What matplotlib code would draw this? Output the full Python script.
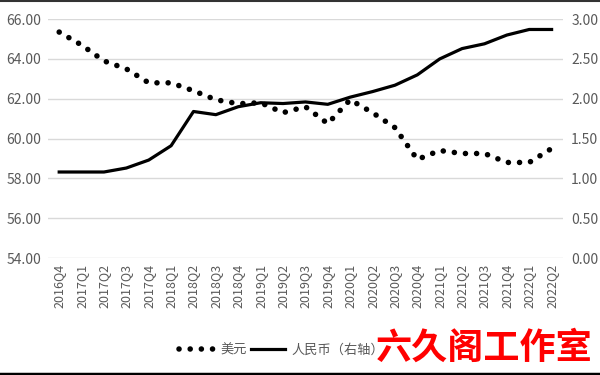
import matplotlib
matplotlib.use("Agg")
import matplotlib.pyplot as plt
from matplotlib.lines import Line2D

plt.rcParams['font.family'] = ['Noto Sans CJK SC', 'DejaVu Sans']

quarters = ["2016Q4", "2017Q1", "2017Q2", "2017Q3", "2017Q4", "2018Q1", "2018Q2",
            "2018Q3", "2018Q4", "2019Q1", "2019Q2", "2019Q3", "2019Q4", "2020Q1",
            "2020Q2", "2020Q3", "2020Q4", "2021Q1", "2021Q2", "2021Q3", "2021Q4",
            "2022Q1", "2022Q2"]
usd = [65.35, 64.7, 63.9, 63.5, 62.8, 62.8, 62.4, 61.95, 61.75, 61.8, 61.3,
       61.6, 60.75, 61.95, 61.3, 60.55, 58.95, 59.4, 59.25, 59.25, 58.8,
       58.8, 59.5]
cny = [1.08, 1.08, 1.08, 1.13, 1.23, 1.41, 1.84, 1.80, 1.90, 1.95, 1.94,
       1.96, 1.93, 2.02, 2.09, 2.17, 2.30, 2.50, 2.63, 2.69, 2.80, 2.87, 2.87]
left_ticks = [54, 56, 58, 60, 62, 64, 66]
right_ticks = [0, 0.5, 1.0, 1.5, 2.0, 2.5, 3.0]

tick_color = "#595959"
grid_color = "#d9d9d9"

fig = plt.figure(figsize=(6, 3.75), dpi=100)
ax = fig.add_axes([0.08, 0.312, 0.858, 0.637])
ax2 = ax.twinx()

x = list(range(len(quarters)))
ax.plot(x, usd, color="black", lw=4.0, linestyle=(0, (0.01, 2.0)),
        dash_capstyle="round", label="美元", zorder=3)
ax2.plot(x, cny, color="black", lw=2.3, label="人民币（右轴）", zorder=3)

ax.set_xlim(-0.5, len(quarters) - 0.5)
ax.set_ylim(54, 66)
ax2.set_ylim(0, 3)
ax.set_yticks(left_ticks)
ax.set_yticklabels([f"{v:.2f}" for v in left_ticks])
ax2.set_yticks(right_ticks)
ax2.set_yticklabels([f"{v:.2f}" for v in right_ticks])
ax.set_xticks(x)
ax.set_xticklabels(quarters, rotation=90)

ax.grid(axis="y", color=grid_color, lw=1)
ax.set_axisbelow(True)
for a in (ax, ax2):
    for s in a.spines.values():
        s.set_visible(False)
    a.tick_params(length=0, colors=tick_color, labelsize=10)
ax.tick_params(axis="x", labelsize=9, pad=4)
ax.tick_params(axis="y", pad=5)
ax2.tick_params(axis="y", pad=6)

h1, l1 = ax.get_legend_handles_labels()
h2, l2 = ax2.get_legend_handles_labels()
fig.legend(h1 + h2, l1 + l2, loc="center", bbox_to_anchor=(0.47, 0.067),
           ncol=2, frameon=False, fontsize=9.5, handlelength=2.6,
           columnspacing=0.3, handletextpad=0.5, labelcolor=tick_color)

fig.text(0.988, 0.072, "六久阁工作室", color="#ff0000", fontsize=26,
         fontweight="bold", ha="right", va="center")

fig.add_artist(Line2D([0, 1], [0.998, 0.998], color="#333333", lw=1.5))
fig.add_artist(Line2D([0, 1], [0.004, 0.004], color="black", lw=2.5))

fig.savefig("out.png", dpi=100)
